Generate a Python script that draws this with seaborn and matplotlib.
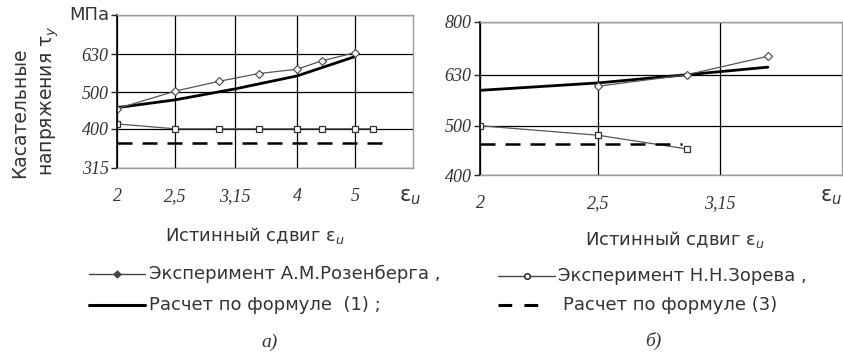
import matplotlib
matplotlib.use("Agg")
import matplotlib.pyplot as plt
import seaborn as sns
from matplotlib.ticker import FixedLocator, FixedFormatter, NullLocator

# panel a) data
ros_a_x = [2.0, 2.5, 2.96, 3.45, 4.0, 4.4, 5.0]
ros_a_y = [452, 503, 534, 560, 575, 605, 636]
calc1_a_x = [2.0, 2.5, 3.15, 4.0, 5.0]
calc1_a_y = [455, 477, 510, 552, 621]
zor_a_x = [2.0, 2.5, 2.96, 3.45, 4.0, 4.4, 5.0, 5.35]
zor_a_y = [412, 400, 400, 400, 400, 400, 400, 400]
calc3_a_x = [2.0, 5.7]
calc3_a_y = [366, 366]

# panel b) data
ros_b_x = [2.5, 2.96, 3.45]
ros_b_y = [598, 630, 685]
calc1_b_x = [2.0, 2.5, 2.96, 3.45]
calc1_b_y = [587, 607, 630, 652]
zor_b_x = [2.0, 2.5, 2.96]
zor_b_y = [500, 479, 450]
calc3_b_x = [2.0, 2.93]
calc3_b_y = [460, 460]

xticks_a = [2, 2.5, 3.15, 4, 5]
xlabels_a = ["2", "2,5", "3,15", "4", "5"]
xticks_b = [2, 2.5, 3.15]
xlabels_b = ["2", "2,5", "3,15"]
yticks_a = [315, 400, 500, 630, 800]
ylabels_a = ["315", "400", "500", "630", ""]
yticks_b = [400, 500, 630, 800]
ylabels_b = ["400", "500", "630", "800"]

sns.set_style("white")
plt.rcParams['font.family'] = ['DejaVu Sans']

W, H = 843, 353
fig = plt.figure(figsize=(W / 100, H / 100), dpi=100)
ax_a = fig.add_axes([117 / W, 1 - 168 / H, 296 / W, 153 / H])
ax_b = fig.add_axes([480 / W, 1 - 175 / H, 362 / W, 153 / H])

def draw(ax, ros, calc1, zor, calc3):
    sns.lineplot(x=calc1[0], y=calc1[1], ax=ax, color="black", lw=2.0)
    sns.lineplot(x=ros[0], y=ros[1], ax=ax, color="#555555", lw=0.9,
                 marker="D", markersize=4, markerfacecolor="white",
                 markeredgecolor="#444444", markeredgewidth=0.8)
    sns.lineplot(x=zor[0], y=zor[1], ax=ax, color="#555555", lw=0.9,
                 marker="s", markersize=5, markerfacecolor="white",
                 markeredgecolor="#333333", markeredgewidth=0.9)
    sns.lineplot(x=calc3[0], y=calc3[1], ax=ax, color="black", lw=1.8,
                 linestyle=(0, (6, 4)))

draw(ax_a, (ros_a_x, ros_a_y), (calc1_a_x, calc1_a_y), (zor_a_x, zor_a_y), (calc3_a_x, calc3_a_y))
draw(ax_b, (ros_b_x, ros_b_y), (calc1_b_x, calc1_b_y), (zor_b_x, zor_b_y), (calc3_b_x, calc3_b_y))

for ax, xt, xl, yt, yl, xlim, ylim in [
        (ax_a, xticks_a, xlabels_a, yticks_a, ylabels_a, (2, 6.25), (315, 800)),
        (ax_b, xticks_b, xlabels_b, yticks_b, ylabels_b, (2, 3.97), (400, 800))]:
    ax.set_xscale("log")
    ax.set_yscale("log")
    ax.set_xlim(*xlim)
    ax.set_ylim(*ylim)
    ax.xaxis.set_major_locator(FixedLocator(xt))
    ax.xaxis.set_major_formatter(FixedFormatter(xl))
    ax.yaxis.set_major_locator(FixedLocator(yt))
    ax.yaxis.set_major_formatter(FixedFormatter(yl))
    ax.xaxis.set_minor_locator(NullLocator())
    ax.yaxis.set_minor_locator(NullLocator())
    ax.grid(True, color="black", lw=0.9)
    ax.set_xlabel("")
    ax.set_ylabel("")
    for lbl in ax.get_xticklabels() + ax.get_yticklabels():
        lbl.set_fontfamily("Liberation Serif")
        lbl.set_fontstyle("italic")
        lbl.set_fontsize(13)
        lbl.set_color("#333333")
    ax.tick_params(axis="y", left=True, length=4, width=1, pad=2)
    ax.tick_params(axis="x", bottom=False, pad=11)
    for s in ["top", "right", "bottom"]:
        ax.spines[s].set_color("#999999")
        ax.spines[s].set_linewidth(1)
    ax.spines["left"].set_color("black")
    ax.spines["left"].set_linewidth(1.2)

ax_a.text(-0.025, 1.0, "МПа", transform=ax_a.transAxes, ha="right", va="center",
          fontsize=13, color="#333333")

txt = dict(color="#333333", ha="center", va="center")

# axis end labels
fig.text(410 / W, 1 - 197 / H, "ε$_u$", fontsize=15, **txt)
fig.text(831 / W, 1 - 197 / H, "ε$_u$", fontsize=15, **txt)

# x-axis titles
fig.text(255 / W, 1 - 235 / H, "Истинный сдвиг ε$_u$", fontsize=13, **txt)
fig.text(675 / W, 1 - 240 / H, "Истинный сдвиг ε$_u$", fontsize=13, **txt)

# y-axis title
fig.text(20 / W, 1 - 113 / H, "Касательные", rotation=90, fontsize=13.5, **txt)
fig.text(50 / W, 1 - 101 / H, "напряжения τ$_y$", rotation=90, fontsize=13.5, **txt)

# hand-drawn legends
def legend_row(x0, x1, xt, y, text, kind):
    yf = 1 - y / H
    xs = [x0 / W, (x0 + x1) / 2 / W, x1 / W]
    ys = [yf, yf, yf]
    if kind == "diamond":
        fig.add_artist(plt.Line2D(xs, ys, color="#444444", lw=1, marker="D", markevery=[1],
                                  markersize=3.5, markerfacecolor="#444444",
                                  markeredgecolor="#444444"))
    elif kind == "square":
        fig.add_artist(plt.Line2D(xs, ys, color="#444444", lw=1, marker="o", markevery=[1],
                                  markersize=4, markerfacecolor="white",
                                  markeredgecolor="#333333", markeredgewidth=1.2))
    elif kind == "solid":
        fig.add_artist(plt.Line2D(xs, ys, color="black", lw=2.2))
    else:
        fig.add_artist(plt.Line2D(xs, ys, color="black", lw=2.2, linestyle=(0, (4.5, 4))))
    fig.text(xt / W, yf, text, fontsize=13, ha="left", va="center", color="#333333")

legend_row(89, 145, 149, 274, "Эксперимент А.М.Розенберга ,", "diamond")
legend_row(89, 145, 149, 305, "Расчет по формуле  (1) ;", "solid")
legend_row(498, 555, 558, 276, "Эксперимент Н.Н.Зорева ,", "square")
legend_row(498, 548, 563, 305, "Расчет по формуле (3)", "dashed")

fig.text(270 / W, 1 - 342 / H, "а)", fontsize=14, style="italic", family="Liberation Serif", **txt)
fig.text(653 / W, 1 - 341 / H, "б)", fontsize=14, style="italic", family="Liberation Serif", **txt)

fig.savefig("out.png", dpi=100)
